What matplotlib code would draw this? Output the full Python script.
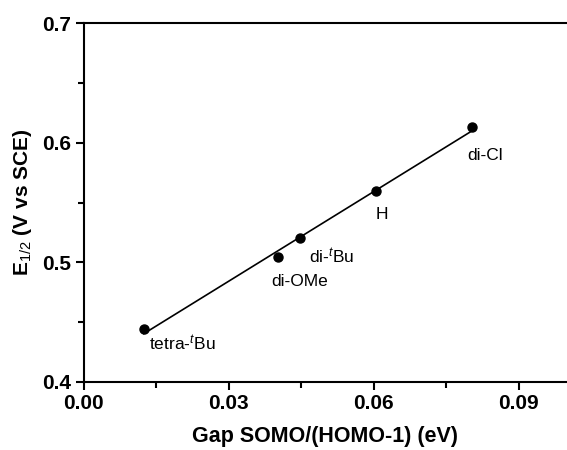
import matplotlib
matplotlib.use("Agg")
import matplotlib.pyplot as plt
import numpy as np

plt.rcParams['font.family'] = ['Liberation Sans', 'DejaVu Sans']
plt.rcParams['mathtext.fontset'] = 'custom'
plt.rcParams['mathtext.rm'] = 'Liberation Sans'
plt.rcParams['mathtext.it'] = 'Liberation Sans:italic'
plt.rcParams['mathtext.bf'] = 'Liberation Sans:bold'

# data
gap = [0.0124, 0.0402, 0.0447, 0.0604, 0.0804]
e_half = [0.444, 0.504, 0.520, 0.560, 0.613]
names = [r'tetra-$^{\it t}$Bu', 'di-OMe', r'di-$^{\it t}$Bu', 'H', 'di-Cl']
label_x = [0.0134, 0.0387, 0.0465, 0.0603, 0.0793]
label_y = [0.432, 0.484, 0.505, 0.540, 0.589]

fig = plt.figure(figsize=(5.67, 4.5), dpi=100)
ax = fig.add_axes([0.148, 0.152, 0.852, 0.796])

# linear fit through the points
k, b = np.polyfit(gap, e_half, 1)
xf = np.array([min(gap), max(gap)])
ax.plot(xf, k * xf + b, color="black", lw=1.2)
ax.plot(gap, e_half, "o", color="black", ms=6.5)

for x, y, s in zip(label_x, label_y, names):
    ax.text(x, y, s, fontsize=12.5, va="center", ha="left")

ax.set_xlim(0, 0.1)
ax.set_ylim(0.4, 0.7)
ax.set_xticks([0.00, 0.03, 0.06, 0.09])
ax.set_xticks([0.015, 0.045, 0.075], minor=True)
ax.set_yticks([0.4, 0.5, 0.6, 0.7])
ax.set_yticks([0.45, 0.55, 0.65], minor=True)
ax.set_xticklabels(["0.00", "0.03", "0.06", "0.09"])
ax.set_yticklabels(["0.4", "0.5", "0.6", "0.7"])
for lab in ax.get_xticklabels() + ax.get_yticklabels():
    lab.set_fontweight("bold")
    lab.set_fontsize(15)

ax.tick_params(which="major", direction="out", length=6, width=1.5, pad=3)
ax.tick_params(which="minor", direction="out", length=4, width=1.5)
ax.tick_params(top=False, right=False)
for sp in ["left", "bottom", "top"]:
    ax.spines[sp].set_linewidth(1.5)
ax.spines["right"].set_visible(False)

ax.set_xlabel("Gap SOMO/(HOMO-1) (eV)", fontsize=15.5, fontweight="bold", labelpad=9)
ax.set_ylabel(r"E$_{1/2}$ (V vs SCE)", fontsize=15, fontweight="bold", labelpad=6)

fig.savefig("out.png", dpi=100)
